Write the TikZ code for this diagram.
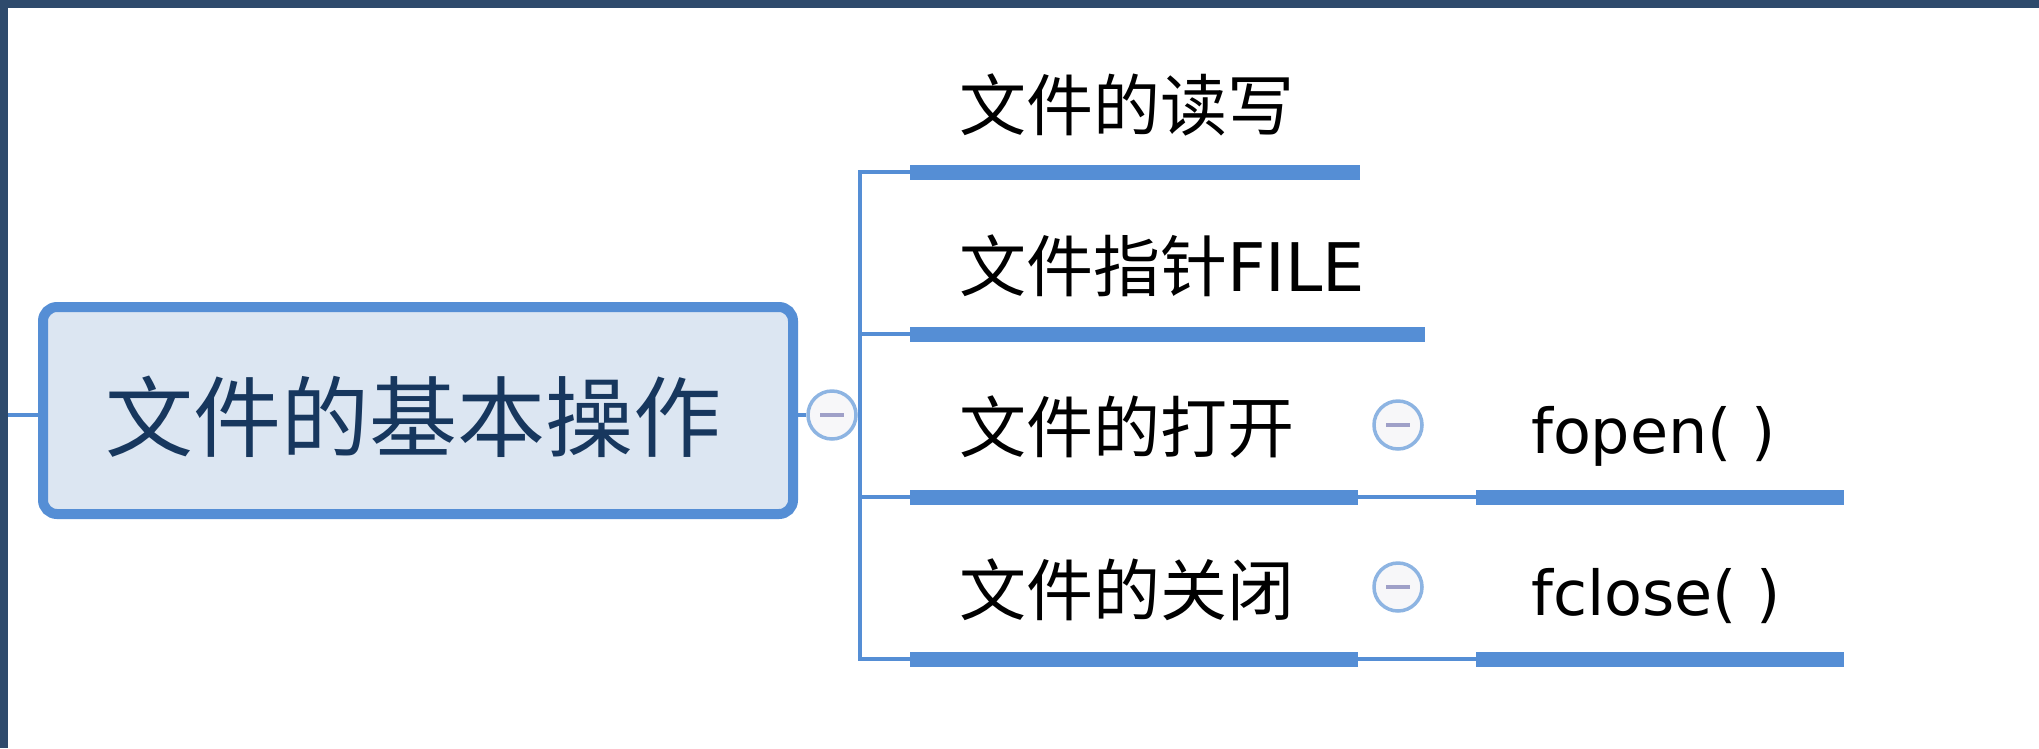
\documentclass[tikz,border=0pt]{standalone}
\usepackage{fontspec}
\newfontfamily\cjk{Noto Sans CJK SC}
\newfontfamily\lat{DejaVu Sans}
\definecolor{framecol}{HTML}{2E4A6C}
\definecolor{linecol}{HTML}{558ED5}
\definecolor{rootfill}{HTML}{DCE6F2}
\definecolor{roottext}{HTML}{17375E}
\definecolor{circcol}{HTML}{8DB4E2}
\definecolor{circfill}{HTML}{F7F7F9}
\definecolor{minuscol}{HTML}{9FA0C8}
\tikzset{
  rootbox/.style={draw=linecol, line width=10pt, fill=rootfill, rounded corners=14pt,
    minimum width=750pt, minimum height=207pt, inner sep=0pt},
  roottxt/.style={inner sep=0pt, text=roottext, font=\cjk\fontsize{88}{100}\selectfont},
  brtxt/.style={inner sep=0pt, text=black, font=\cjk\fontsize{67}{80}\selectfont},
  subtxt/.style={inner sep=0pt, text=black, font=\lat\fontsize{62}{74}\selectfont},
  conn/.style={draw=linecol, line width=4.5pt},
  uline/.style={draw=linecol, line width=15pt},
  collapse/.style={circle, draw=circcol, line width=3.5pt, fill=circfill, minimum size=48pt, inner sep=0pt,
    path picture={\draw[line width=4pt, minuscol] ([xshift=-12pt]path picture bounding box.center) -- ([xshift=12pt]path picture bounding box.center);}}
}
\begin{document}
\begin{tikzpicture}[x=1pt,y=-1pt]
\useasboundingbox (0,0) rectangle (2039,748);
\fill[white] (0,0) rectangle (2039,748);
\fill[framecol] (0,0) rectangle (2039,8);
\fill[framecol] (0,0) rectangle (8,748);

% root
\coordinate (lstub) at (8,415);
\node[rootbox] (root) at (418,410.5) {};
\draw[conn] (lstub) -- (lstub -| root.west);
\node[roottxt, anchor=base] (roottext) at (413,450) {文件的基本操作};

% trunk coordinates
\coordinate (t1) at (860,172);
\coordinate (t2) at (860,334);
\coordinate (t3) at (860,497);
\coordinate (t4) at (860,659);
\coordinate (u1a) at (910,172); \coordinate (u1b) at (1360,172);
\coordinate (u2a) at (910,334); \coordinate (u2b) at (1425,334);
\coordinate (u3a) at (910,497); \coordinate (u3b) at (1358,497);
\coordinate (u4a) at (910,659); \coordinate (u4b) at (1358,659);
\coordinate (s1a) at (1476,497); \coordinate (s1b) at (1844,497);
\coordinate (s2a) at (1476,659); \coordinate (s2b) at (1844,659);

\node[collapse] (c0) at (832,415) {};
\draw[conn] (root.east |- c0) -- (c0.west);
\draw[conn] (c0.east) -- (c0.east -| t1);
\draw[conn] (u1a) -- (t1) -- (t4) -- (u4a);
\draw[conn] (t2) -- (u2a);
\draw[conn] (t3) -- (u3a);
\draw[uline] (u1a) -- (u1b);
\draw[uline] (u2a) -- (u2b);
\draw[uline] (u3a) -- (u3b);
\draw[uline] (u4a) -- (u4b);

\node[brtxt, anchor=base west] (b1) at (959,130) {文件的读写};
\node[brtxt, anchor=base west] (b2) at (959,291) {文件指针{\lat FILE}};
\node[brtxt, anchor=base west] (b3) at (959,452) {文件的打开};
\node[brtxt, anchor=base west] (b4) at (959,615) {文件的关闭};

\node[collapse] (c3) at (1398,425) {};
\node[collapse] (c4) at (1398,587) {};

\draw[conn] (u3b) -- (s1a);
\draw[conn] (u4b) -- (s2a);
\draw[uline] (s1a) -- (s1b);
\draw[uline] (s2a) -- (s2b);

\node[subtxt, anchor=base west] (f1) at (1531,453) {fopen( )};
\node[subtxt, anchor=base west] (f2) at (1531,615) {fclose( )};
\end{tikzpicture}
\end{document}
